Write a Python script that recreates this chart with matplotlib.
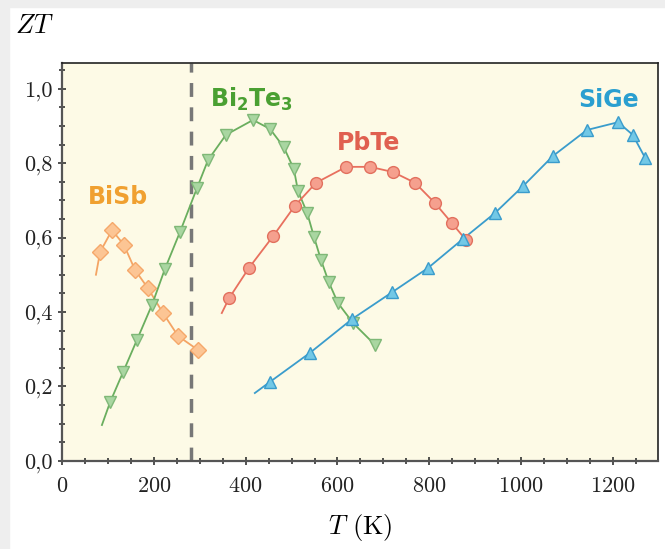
import matplotlib
matplotlib.use("Agg")
import matplotlib.pyplot as plt
from matplotlib.ticker import MultipleLocator, FuncFormatter
from matplotlib.patches import Rectangle

plt.rcParams['font.family'] = 'cmr10'
plt.rcParams['mathtext.fontset'] = 'cm'
plt.rcParams['axes.formatter.use_mathtext'] = True

# data: T (K), ZT
bisb_T = [83, 109, 135, 159, 187, 220, 253, 296]
bisb_ZT = [0.561, 0.620, 0.580, 0.513, 0.464, 0.397, 0.335, 0.298]
bisb_start = (74, 0.50)

bite_T = [105, 133, 163, 196, 224, 257, 294, 318, 357, 416, 453, 483,
          505, 514, 534, 549, 564, 581, 601, 634, 682]
bite_ZT = [0.158, 0.238, 0.324, 0.419, 0.515, 0.615, 0.733, 0.808, 0.876,
           0.916, 0.892, 0.843, 0.784, 0.725, 0.666, 0.601, 0.540, 0.480,
           0.424, 0.370, 0.311]
bite_start = (87, 0.096)

pbte_T = [364, 407, 460, 507, 553, 619, 671, 721, 769, 812, 849, 880]
pbte_ZT = [0.437, 0.518, 0.604, 0.685, 0.747, 0.790, 0.790, 0.776, 0.747,
           0.693, 0.639, 0.593]
pbte_start = (348, 0.397)

sige_T = [453, 540, 632, 719, 797, 873, 943, 1004, 1069, 1143, 1211, 1243, 1270]
sige_ZT = [0.212, 0.290, 0.381, 0.453, 0.518, 0.596, 0.666, 0.738, 0.819,
           0.889, 0.910, 0.876, 0.814]
sige_start = (420, 0.182)

room_T = 280

fig = plt.figure(figsize=(6.65, 5.49), dpi=100)
fig.patch.set_facecolor('white')
# grey card border on the left and top
fig.patches.append(Rectangle((0, 0), 0.014, 1, transform=fig.transFigure,
                             color='#eeeeee', zorder=0))
fig.patches.append(Rectangle((0, 0.988), 1, 0.012, transform=fig.transFigure,
                             color='#eeeeee', zorder=0))

ax = fig.add_axes([0.0932, 0.1608, 0.8963, 0.725])
ax.set_facecolor('#fdfae6')

series = [
    (bisb_T, bisb_ZT, bisb_start, 'D', 8, '#fcc594', '#f5a86a', '#f4a464'),
    (bite_T, bite_ZT, bite_start, 'v', 9, '#a9d6a1', '#7fb877', '#6aae5e'),
    (pbte_T, pbte_ZT, pbte_start, 'o', 8.5, '#f5a08e', '#e2705e', '#e8705e'),
    (sige_T, sige_ZT, sige_start, '^', 9, '#72c8e6', '#3a9ccc', '#3a9ccc'),
]
for T, ZT, start, mk, ms, fc, ec, lc in series:
    ax.plot([start[0]] + T, [start[1]] + ZT, color=lc, lw=1.3, zorder=2)
    ax.plot(T, ZT, linestyle='none', marker=mk, ms=ms, mfc=fc, mec=ec,
            mew=1.0, zorder=3)

ax.axvline(room_T, color='#777777', lw=2.5, dashes=(4, 3), zorder=1)

lab = dict(fontsize=17, fontweight='bold', family='DejaVu Sans',
           ha='center', va='center')
ax.text(122, 0.709, 'BiSb', color='#f0a030', **lab)
ax.text(412, 0.972, r'$\mathbf{Bi_2Te_3}$', color='#4aa032',
        math_fontfamily='dejavusans', **lab)
ax.text(668, 0.854, 'PbTe', color='#e06050', **lab)
ax.text(1191, 0.97, 'SiGe', color='#2a9fd0', **lab)

ax.set_xlim(0, 1298)
ax.set_ylim(0, 1.07)
ax.xaxis.set_major_locator(MultipleLocator(200))
ax.xaxis.set_minor_locator(MultipleLocator(50))
ax.yaxis.set_major_locator(MultipleLocator(0.2))
ax.yaxis.set_minor_locator(MultipleLocator(0.05))
ax.yaxis.set_major_formatter(FuncFormatter(lambda v, p: ('%.1f' % v).replace('.', ',')))
ax.tick_params(which='major', direction='inout', length=6, width=1.2,
               labelsize=16, colors='#333333', labelcolor='#222222')
ax.tick_params(which='minor', direction='inout', length=4, width=1.2,
               colors='#333333')
ax.tick_params(top=False, right=False, which='both')
ax.tick_params(axis='x', pad=8)
for s in ['left', 'bottom']:
    ax.spines[s].set_color('#555555')
    ax.spines[s].set_linewidth(1.6)
for s in ['top', 'right']:
    ax.spines[s].set_color('#222222')
    ax.spines[s].set_linewidth(1.2)

ax.set_xlabel('$T$ (K)', fontsize=19, labelpad=12)
fig.text(0.022, 0.952, '$ZT$', fontsize=19, ha='left', va='center')

fig.savefig('out.png', dpi=100)
